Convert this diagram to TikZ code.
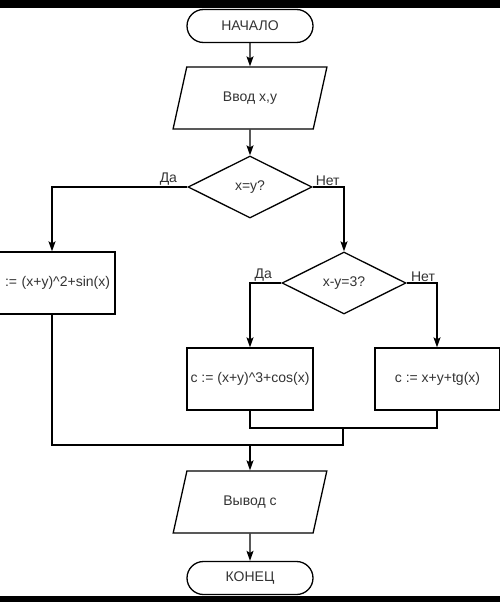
\documentclass[tikz,border=0pt]{standalone}
\usepackage{fontspec}
\setmainfont{Liberation Sans}
\usetikzlibrary{arrows.meta, positioning, shapes.geometric, shapes.misc}

\begin{document}
\begin{tikzpicture}[x=1pt, y=-1pt,
    every node/.style={font=\fontsize{14}{16}\selectfont, text=black!80},
    term/.style={rounded rectangle, draw, line width=1.3pt, minimum width=126pt,
                 minimum height=33pt, inner sep=0pt},
    io/.style={trapezium, trapezium left angle=65, trapezium right angle=115,
               trapezium stretches=true, draw, line width=1.3pt,
               minimum width=154pt, minimum height=62pt, inner sep=0pt},
    decision/.style={diamond, draw, line width=1.3pt, minimum width=124pt,
                     minimum height=62pt, inner sep=0pt, aspect=2},
    action/.style={rectangle, draw, line width=1.3pt, minimum width=126pt,
                   minimum height=62pt, inner sep=0pt, align=center},
    line/.style={line width=1.3pt},
    arr/.style={-{Stealth[length=10pt, width=7pt, inset=2pt]}, line width=1.3pt},
    yn/.style={font=\fontsize{14}{16}\selectfont, inner sep=1pt}
]
\useasboundingbox (0,0) rectangle (500,602);
\clip (0,0) rectangle (500,602);
\fill[black] (0,0) rectangle (500,8);
\fill[black] (0,596) rectangle (500,602);

\node[term]     (start) at (250,26)    {НАЧАЛО};
\node[io]       (inp)   at (250,98)    {Ввод x,y};
\node[decision] (d1)    at (250,187)   {x=y?};
\node[decision] (d2)    at (344,283)   {x-y=3?};
\node[action, text width=116pt, inner xsep=5pt, align=right]
                (b1)    at (52,283)    {:= (x+y)\^{}2+sin(x)};
\node[action]   (b2)    at (250,379)   {c := (x+y)\^{}3+cos(x)};
\node[action, minimum width=125pt]
                (b3)    at (437.5,379) {c := x+y+tg(x)};
\node[io]       (outp)  at (250,502)   {Вывод c};
\node[term]     (stop)  at (250,578)   {КОНЕЦ};

\coordinate (m1) at (343,428);
\coordinate (m2) at (250,445);

\draw[arr] (start) -- (inp);
\draw[arr] (inp) -- (d1);
\draw[arr] (d1.west) -| node[yn,above,pos=0.07]{Да}  (b1.north);
\draw[arr] (d1.east) -| node[yn,above,pos=0.24]{Нет} (d2.north);
\draw[arr] (d2.west) -| node[yn,above,pos=0.29]{Да}  (b2.north);
\draw[arr] (d2.east) -| node[yn,above,pos=0.27]{Нет} ([xshift=-0.5pt]b3.north);
\draw[line] (b2.south) |- (m1) -| ([xshift=-0.5pt]b3.south);
\draw[line] (m1) |- (m2);
\draw[line] (b1.south) |- (m2);
\draw[arr] (m2) -- (outp);
\draw[arr] (outp) -- (stop);
\end{tikzpicture}
\end{document}
